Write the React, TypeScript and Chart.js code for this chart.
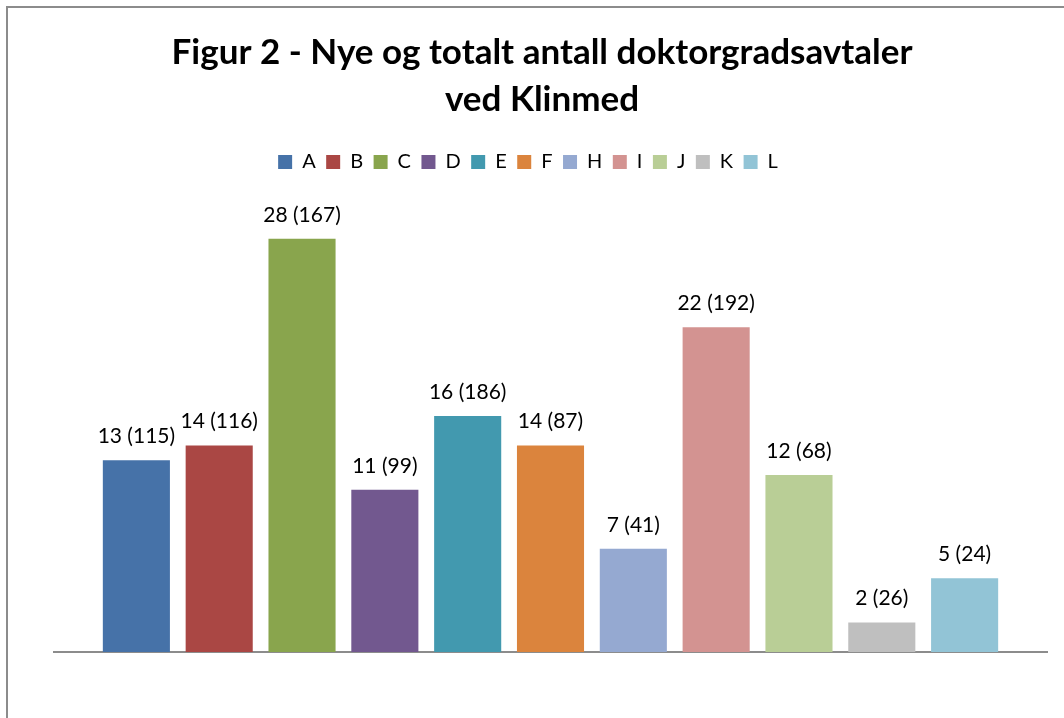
import React, { useEffect, useRef } from "react";
import { Chart, registerables } from "chart.js";

Chart.register(...registerables);

const seriesNames = ["A", "B", "C", "D", "E", "F", "H", "I", "J", "K", "L"];
const newAgreements = [13, 14, 28, 11, 16, 14, 7, 22, 12, 2, 5];
const totalAgreements = [115, 116, 167, 99, 186, 87, 41, 192, 68, 26, 24];
const seriesColors = [
  "#4672A8",
  "#AA4744",
  "#89A54D",
  "#72588F",
  "#4299AF",
  "#DB843D",
  "#95A9D1",
  "#D39391",
  "#B9CE96",
  "#BFBFBF",
  "#92C4D6",
];
const titleLines = ["Figur 2 - Nye og totalt antall doktorgradsavtaler", "ved Klinmed"];
const categoryLabels = ["Klinmed"];

const frameAndTitle = {
  id: "frameAndTitle",
  beforeDraw(chart: any) {
    const ctx = chart.ctx;
    ctx.save();
    ctx.fillStyle = "#ffffff";
    ctx.fillRect(0, 0, chart.width, chart.height);
    ctx.strokeStyle = "#8c8c8c";
    ctx.lineWidth = 2;
    ctx.beginPath();
    ctx.moveTo(7, chart.height);
    ctx.lineTo(7, 7);
    ctx.lineTo(chart.width, 7);
    ctx.stroke();
    ctx.fillStyle = "#000000";
    ctx.font = "bold 35px Lato, 'Open Sans', sans-serif";
    ctx.textAlign = "center";
    ctx.textBaseline = "middle";
    ctx.fillText(titleLines[0], 542, 53);
    ctx.fillText(titleLines[1], 542, 100);
    ctx.restore();
  },
};

const valueLabels = {
  id: "valueLabels",
  afterDatasetsDraw(chart: any) {
    const ctx = chart.ctx;
    ctx.save();
    ctx.fillStyle = "#000000";
    ctx.font = "21px Lato, 'Open Sans', sans-serif";
    ctx.textAlign = "center";
    ctx.textBaseline = "alphabetic";
    chart.data.datasets.forEach((ds: any, i: number) => {
      const meta = chart.getDatasetMeta(i);
      meta.data.forEach((el: any) => {
        ctx.fillText(`${newAgreements[i]} (${totalAgreements[i]})`, el.x, el.y - 17);
      });
    });
    ctx.restore();
  },
};

export default function App() {
  const canvasRef = useRef<HTMLCanvasElement | null>(null);

  useEffect(() => {
    if (!canvasRef.current) return;
    const chart = new Chart(canvasRef.current, {
      type: "bar",
      data: {
        labels: categoryLabels,
        datasets: seriesNames.map((name, i) => ({
          label: name,
          data: [newAgreements[i]],
          backgroundColor: seriesColors[i],
          borderWidth: 0,
          categoryPercentage: 0.9175,
          barPercentage: 0.81,
        })),
      },
      options: {
        animation: false,
        responsive: true,
        maintainAspectRatio: false,
        layout: { padding: { top: 141.5, left: 9, right: 17, bottom: 66 } },
        plugins: {
          title: { display: false },
          tooltip: { enabled: false },
          legend: {
            display: true,
            position: "top",
            labels: {
              boxWidth: 14,
              boxHeight: 14,
              padding: 10.5,
              color: "#000000",
              font: { size: 20, family: "Lato, 'Open Sans', sans-serif" },
            },
          },
        },
        scales: {
          x: {
            grid: { display: false, drawTicks: false },
            ticks: { display: false },
            border: { display: true, color: "#8c8c8c", width: 2 },
          },
          y: {
            min: 0,
            max: 31.85,
            grid: { display: false, drawTicks: false },
            ticks: { display: false },
            border: { display: false },
            afterFit: (scale: any) => {
              scale.width = 45;
            },
          },
        },
      },
      plugins: [frameAndTitle, valueLabels],
    });
    return () => chart.destroy();
  }, []);

  return (
    <div style={{ position: "fixed", left: 0, top: 0, width: 1064, height: 718, background: "#fff" }}>
      <canvas ref={canvasRef} />
    </div>
  );
}
